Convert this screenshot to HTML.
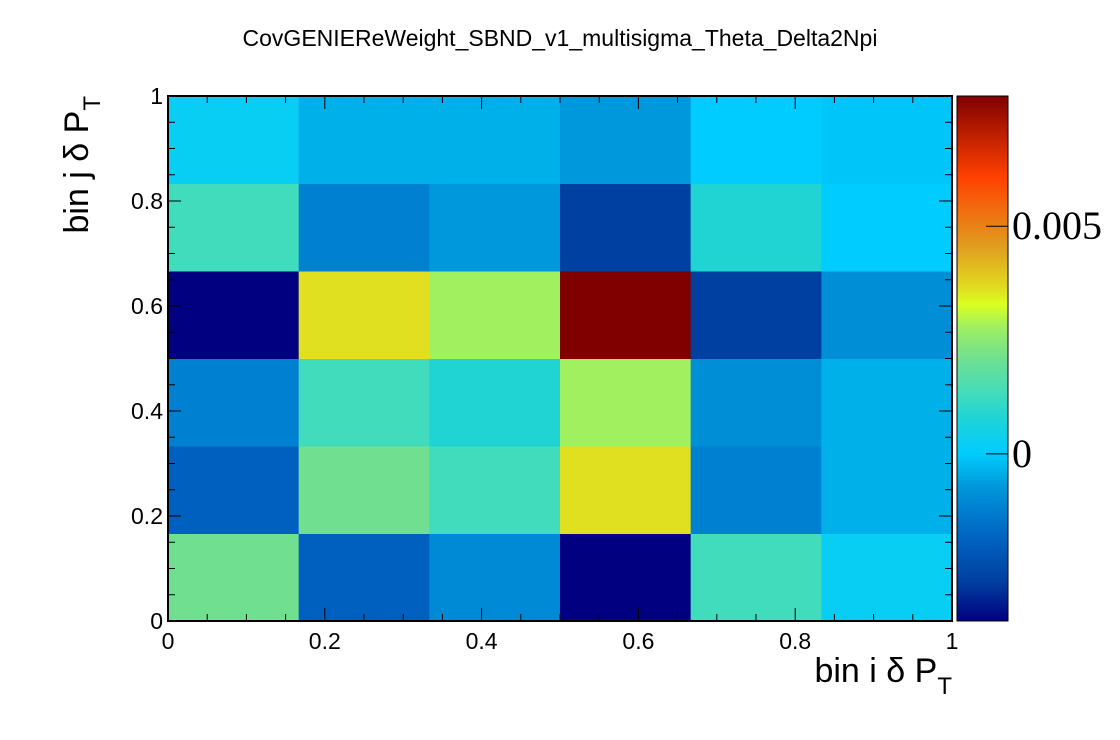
<!DOCTYPE html>
<html><head><meta charset="utf-8"><style>
html,body{margin:0;padding:0;background:#fff;}
svg{display:block;font-family:"Liberation Sans",sans-serif;}
</style></head><body>
<svg id="chart" width="1120" height="740" viewBox="0 0 1120 740" xmlns="http://www.w3.org/2000/svg">
<rect width="1120" height="740" fill="#fff"/>
<text x="560" y="46" font-size="23" text-anchor="middle">CovGENIEReWeight_SBND_v1_multisigma_Theta_Delta2Npi</text>
<g id="cells"></g>
<g id="axes"></g>
<g id="palette"></g>
<text x="952" y="682" font-size="34" text-anchor="end">bin i δ P<tspan font-size="24" dy="12">T</tspan></text>
<text transform="translate(88,96) rotate(-90)" font-size="34" text-anchor="end"><tspan>bin j δ P</tspan><tspan font-size="24" dy="12">T</tspan></text>
</svg>
<script>
// bin edges and values (rows: j from 0 bottom to 5 top; cols: i from 0 to 5)
const xEdges = [0, 1/6, 2/6, 3/6, 4/6, 5/6, 1];
const yEdges = [0, 1/6, 2/6, 3/6, 4/6, 5/6, 1];
const row0 = [0.0021, -0.0019, -0.0010, -0.0037, 0.0013, 0.0002];
const row1 = [-0.0019, 0.0021, 0.0013, 0.0036, -0.0012, -0.0004];
const row2 = [-0.0012, 0.0013, 0.0008, 0.0028, -0.0009, -0.0004];
const row3 = [-0.0037, 0.0036, 0.0028, 0.0079, -0.0028, -0.0009];
const row4 = [0.0013, -0.0012, -0.0007, -0.0028, 0.0008, 0.0000];
const row5 = [0.0002, -0.0004, -0.0004, -0.0007, 0.0000, -0.0001];
const zMin = -0.00367, zMax = 0.00786;
const xTicks = [0, 0.2, 0.4, 0.6, 0.8, 1];
const xTickLabels = ["0", "0.2", "0.4", "0.6", "0.8", "1"];
const yTicks = [0, 0.2, 0.4, 0.6, 0.8, 1];
const yTickLabels = ["0", "0.2", "0.4", "0.6", "0.8", "1"];
const zTicks = [0, 0.005];
const zTickLabels = ["0", "0.005"];

const NS = "http://www.w3.org/2000/svg";
const PX0 = 168, PX1 = 952, PY0 = 621, PY1 = 96;
const CB0 = 957, CB1 = 1008;
const xs = v => PX0 + v * (PX1 - PX0);
const ys = v => PY0 - v * (PY0 - PY1);
const zs = v => PY0 - (v - zMin) / (zMax - zMin) * (PY0 - PY1);

const stops = [
 [-0.00367,[0,0,128]],[-0.0028,[0,64,160]],[-0.0019,[0,96,192]],[-0.0012,[0,128,208]],
 [-0.0007,[0,152,220]],[-0.0004,[0,176,232]],[0,[0,204,255]],[0.0008,[32,212,212]],
 [0.0013,[64,220,188]],[0.0021,[112,224,144]],[0.0028,[160,240,96]],[0.0033,[220,255,32]],[0.0036,[224,224,32]],
 [0.0045,[224,160,32]],[0.0061,[255,64,0]],[0.00786,[128,0,0]]];
function color(v){
  if(v<=stops[0][0]) return "rgb("+stops[0][1]+")";
  for(let k=1;k<stops.length;k++){
    if(v<=stops[k][0]){
      const [a,ca]=stops[k-1],[b,cb]=stops[k];const t=(v-a)/(b-a);
      return "rgb("+ca.map((c,i)=>Math.round(c+(cb[i]-c)*t)).join(",")+")";
    }
  }
  return "rgb("+stops[stops.length-1][1]+")";
}
function mk(tag, attrs, parent){const e=document.createElementNS(NS,tag);for(const k in attrs)e.setAttribute(k,attrs[k]);parent.appendChild(e);return e;}

const rows=[row0,row1,row2,row3,row4,row5];
const cells=document.getElementById("cells");
rows.forEach((r,j)=>r.forEach((v,i)=>{
  const x0=xs(xEdges[i]),x1=xs(xEdges[i+1]),y0=ys(yEdges[j+1]),y1=ys(yEdges[j]);
  const el=mk("rect",{x:x0,y:y0,width:x1-x0+0.5,height:y1-y0+0.5,fill:color(v)},cells);
  
  
}));

const ax=document.getElementById("axes");
mk("rect",{x:PX0,y:PY1,width:PX1-PX0,height:PY0-PY1,fill:"none",stroke:"#000","stroke-width":2},ax);
for(let k=0;k<=20;k++){
  const v=k/20, major=k%4===0, L=major?13:7;
  const x=xs(v), y=ys(v);
  mk("line",{x1:x,y1:PY0,x2:x,y2:PY0-L,stroke:"#000","stroke-width":1},ax);
  mk("line",{x1:x,y1:PY1,x2:x,y2:PY1+L,stroke:"#000","stroke-width":1},ax);
  mk("line",{x1:PX0,y1:y,x2:PX0+L,y2:y,stroke:"#000","stroke-width":1},ax);
  mk("line",{x1:PX1,y1:y,x2:PX1-L,y2:y,stroke:"#000","stroke-width":1},ax);
}
xTicks.forEach((v,k)=>{
  const t=mk("text",{x:xs(v),y:649,"font-size":23,"text-anchor":"middle"},ax);t.textContent=xTickLabels[k];
  
  
});
yTicks.forEach((v,k)=>{
  const t=mk("text",{x:163,y:ys(v)+8,"font-size":23,"text-anchor":"end"},ax);t.textContent=yTickLabels[k];
  
  
});

const pal=document.getElementById("palette");
const defs=mk("defs",{},pal);
const grad=mk("linearGradient",{id:"pg",x1:0,y1:1,x2:0,y2:0},defs);
stops.forEach(s=>mk("stop",{offset:(s[0]-zMin)/(zMax-zMin),"stop-color":"rgb("+s[1]+")"},grad));
const bar=mk("rect",{x:CB0,y:PY1,width:CB1-CB0,height:PY0-PY1,fill:"url(#pg)",stroke:"#000","stroke-width":1},pal);


zTicks.forEach((v,k)=>{
  mk("line",{x1:CB1-22,y1:zs(v),x2:CB1,y2:zs(v),stroke:"#000","stroke-width":1},pal);
  const t=mk("text",{x:1012,y:zs(v)+13,"font-size":40,"font-family":"Liberation Serif, serif"},pal);t.textContent=zTickLabels[k];
  
  
});
</script>
</body></html>
